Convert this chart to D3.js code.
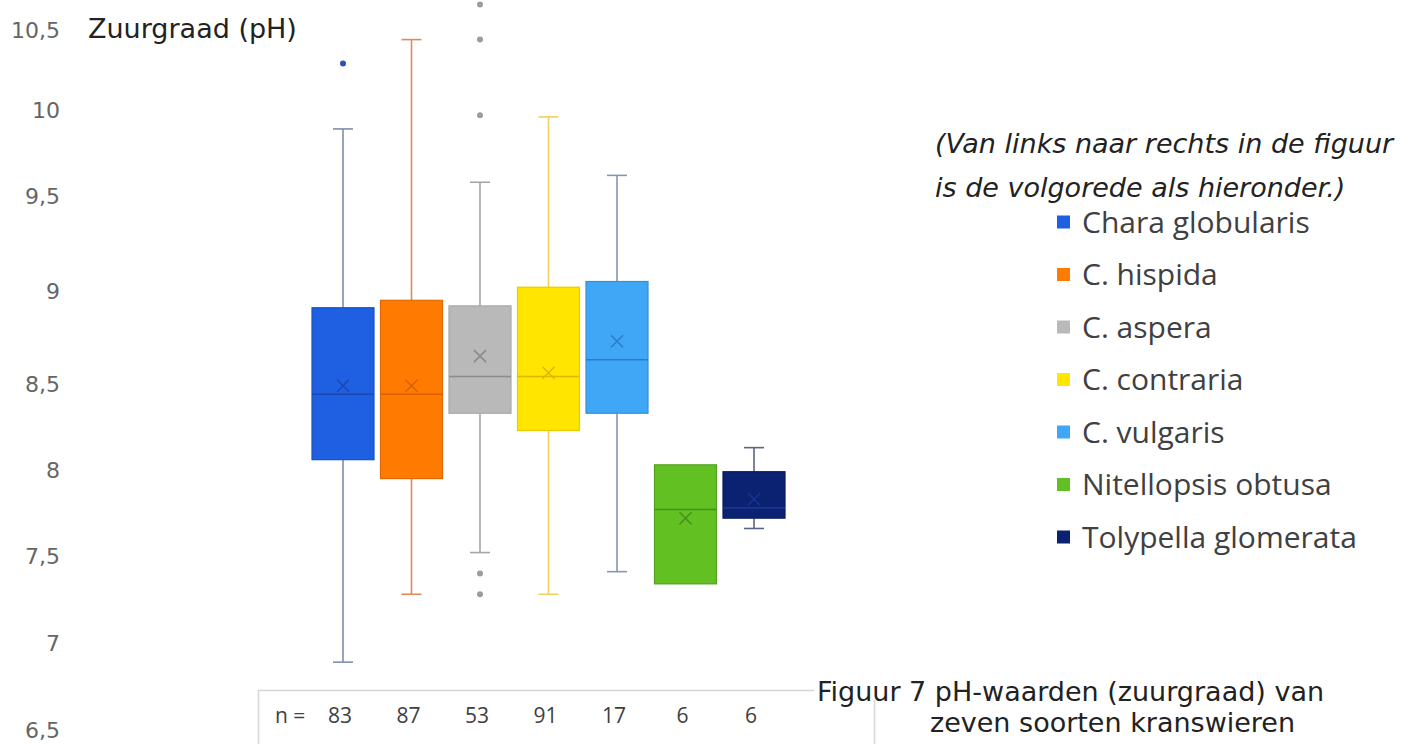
<!DOCTYPE html>
<html>
<head>
<meta charset="utf-8">
<script src="https://cdn.jsdelivr.net/npm/d3@7/dist/d3.min.js"></script>
<style>
  html, body { margin: 0; padding: 0; background: #ffffff; }
  svg { display: block; }
</style>
</head>
<body>
<svg id="chart" width="1413" height="744"></svg>
<script>
// ---------- data ----------
const categories = ["Chara globularis", "C. hispida", "C. aspera", "C. contraria", "C. vulgaris", "Nitellopsis obtusa", "Tolypella glomerata"];
const nValues    = [83, 87, 53, 91, 17, 6, 6];
const whiskerLow = [6.89, 7.28, 7.52, 7.28, 7.41, 7.34, 7.66];
const q1         = [8.06, 7.95, 8.33, 8.23, 8.33, 7.34, 7.72];
const medians    = [8.44, 8.44, 8.54, 8.54, 8.63, 7.77, 7.78];
const q3         = [8.91, 8.95, 8.92, 9.02, 9.05, 8.03, 7.99];
const whiskerHigh= [9.89, 10.44, 9.58, 9.96, 9.62, 8.03, 8.13];
const means      = [8.49, 8.49, 8.65, 8.56, 8.73, 7.72, 7.83];
const outliers   = [[10.29], [], [10.66, 10.44, 9.97, 7.40, 7.28], [], [], [], []];
const yTicks     = [6.5, 7, 7.5, 8, 8.5, 9, 9.5, 10, 10.5];

// ---------- styles ----------
const fills    = ["#1f5fe2", "#ff7a00", "#b9b9b9", "#ffe500", "#3fa7f6", "#62c023", "#0b2272"];
const strokes  = ["#1a50c0", "#e06a00", "#a8a8a8", "#e8cc00", "#3590d8", "#52a01e", "#081a5a"];
const marks    = ["#1848b0", "#d86000", "#8a8a8a", "#d8b800", "#2a7cc8", "#449018", "#1a3590"];
const whiskerC = ["#7f8fb0", "#e08a5a", "#a6a6a6", "#f0d060", "#8595b5", "#62c023", "#5a6488"];
const outlierC = ["#2a4fc0", "#999999", "#9c9c9c", "#999999", "#999999", "#999999", "#999999"];

const svg = d3.select("#chart");

// y scale: tick labels in the reference are not evenly spaced
const y = d3.scaleLinear()
  .domain(yTicks)
  .range([730, 643, 556, 470, 384, 291, 196, 110, 30]);

const x = d3.scalePoint()
  .domain(categories)
  .range([343, 754]);

const boxW = 62, capW = 20;

// y axis labels
const yAxis = d3.axisLeft(y)
  .tickValues(yTicks)
  .tickSize(0)
  .tickPadding(0)
  .tickFormat(d => String(d).replace(".", ","));
const gy = svg.append("g").attr("transform", "translate(60,0)").call(yAxis);
gy.select(".domain").remove();
gy.selectAll("text")
  .attr("fill", "#666666")
  .style("font-family", "'DejaVu Sans', Verdana, sans-serif")
  .style("font-size", "22px");

// axis title
svg.append("text")
  .attr("x", 88).attr("y", 38)
  .attr("fill", "#222")
  .style("font-family", "'DejaVu Sans', Verdana, sans-serif")
  .style("font-size", "27px")
  .text("Zuurgraad (pH)");

// boxes
const data = categories.map((c, i) => ({
  c, i, lo: whiskerLow[i], q1: q1[i], med: medians[i], q3: q3[i], hi: whiskerHigh[i], mean: means[i], out: outliers[i]
}));

const g = svg.append("g");
const b = g.selectAll("g.box").data(data).join("g").attr("class", "box");

// whiskers
b.append("line")
  .attr("x1", d => x(d.c)).attr("x2", d => x(d.c))
  .attr("y1", d => y(d.hi)).attr("y2", d => y(d.q3))
  .attr("stroke", d => whiskerC[d.i]).attr("stroke-width", 1.6);
b.append("line")
  .attr("x1", d => x(d.c)).attr("x2", d => x(d.c))
  .attr("y1", d => y(d.q1)).attr("y2", d => y(d.lo))
  .attr("stroke", d => whiskerC[d.i]).attr("stroke-width", 1.6);
// caps
b.filter(d => d.hi > d.q3).append("line")
  .attr("x1", d => x(d.c) - capW / 2).attr("x2", d => x(d.c) + capW / 2)
  .attr("y1", d => y(d.hi)).attr("y2", d => y(d.hi))
  .attr("stroke", d => whiskerC[d.i]).attr("stroke-width", 1.6);
b.filter(d => d.lo < d.q1).append("line")
  .attr("x1", d => x(d.c) - capW / 2).attr("x2", d => x(d.c) + capW / 2)
  .attr("y1", d => y(d.lo)).attr("y2", d => y(d.lo))
  .attr("stroke", d => whiskerC[d.i]).attr("stroke-width", 1.6);

// box
b.append("rect")
  .attr("x", d => x(d.c) - boxW / 2)
  .attr("width", boxW)
  .attr("y", d => y(d.q3))
  .attr("height", d => y(d.q1) - y(d.q3))
  .attr("fill", d => fills[d.i])
  .attr("stroke", d => strokes[d.i])
  .attr("stroke-width", 1.2);

// median
b.append("line")
  .attr("x1", d => x(d.c) - boxW / 2).attr("x2", d => x(d.c) + boxW / 2)
  .attr("y1", d => y(d.med)).attr("y2", d => y(d.med))
  .attr("stroke", d => marks[d.i]).attr("stroke-width", 1.6);

// mean X
const xs = 6;
b.append("path")
  .attr("d", d => {
    const cx = x(d.c), cy = y(d.mean);
    return `M${cx - xs},${cy - xs}L${cx + xs},${cy + xs}M${cx - xs},${cy + xs}L${cx + xs},${cy - xs}`;
  })
  .attr("stroke", d => marks[d.i]).attr("stroke-width", 1.5).attr("fill", "none");

// outliers
b.selectAll("circle").data(d => d.out.map(v => ({ v, d }))).join("circle")
  .attr("cx", o => x(o.d.c))
  .attr("cy", o => y(o.v))
  .attr("r", 3)
  .attr("fill", o => outlierC[o.d.i]);

// n table
const tbl = svg.append("g");
tbl.append("path")
  .attr("d", "M258.5,744V690.5H874.5V744")
  .attr("fill", "none").attr("stroke", "#d6d6d6").attr("stroke-width", 1.5);
tbl.append("text")
  .attr("x", 275).attr("y", 723)
  .attr("fill", "#404040")
  .style("font-family", "'Open Sans', sans-serif").style("font-size", "21px")
  .text("n =");
tbl.selectAll("text.n").data(nValues).join("text").attr("class", "n")
  .attr("x", (d, i) => x(categories[i]) - 3).attr("y", 723)
  .attr("text-anchor", "middle")
  .attr("fill", "#404040")
  .style("font-family", "'Open Sans', sans-serif").style("font-size", "21px")
  .text(d => d);

// caption with white background covering the table's top line
const cap = svg.append("g");
cap.append("rect").attr("x", 814).attr("y", 678).attr("width", 520).attr("height", 22).attr("fill", "#fff");
const capText = cap.append("text")
  .attr("fill", "#222")
  .style("font-family", "'DejaVu Sans', Verdana, sans-serif")
  .style("font-size", "27px");
capText.append("tspan").attr("x", 817).attr("y", 701).text("Figuur 7 pH-waarden (zuurgraad) van");
capText.append("tspan").attr("x", 930).attr("y", 732).text("zeven soorten kranswieren");

// italic note
const note = svg.append("text")
  .attr("fill", "#222")
  .style("font-family", "'DejaVu Sans', Verdana, sans-serif")
  .style("font-style", "italic")
  .style("font-size", "27px");
note.append("tspan").attr("x", 935).attr("y", 153).text("(Van links naar rechts in de figuur");
note.append("tspan").attr("x", 935).attr("y", 197).text("is de volgorede als hieronder.)");

// legend
const legY = d3.scalePoint().domain(categories).range([222, 537]);
const leg = svg.append("g").selectAll("g").data(categories).join("g")
  .attr("transform", d => `translate(1057,${legY(d)})`);
leg.append("rect").attr("x", 0).attr("y", -6.5).attr("width", 13).attr("height", 13)
  .attr("fill", (d, i) => fills[i]);
leg.append("text").attr("x", 25).attr("y", 0).attr("dy", "0.35em")
  .attr("fill", "#404040")
  .style("font-family", "'Open Sans', sans-serif").style("font-size", "30px")
  .text(d => d);
</script>
</body>
</html>
